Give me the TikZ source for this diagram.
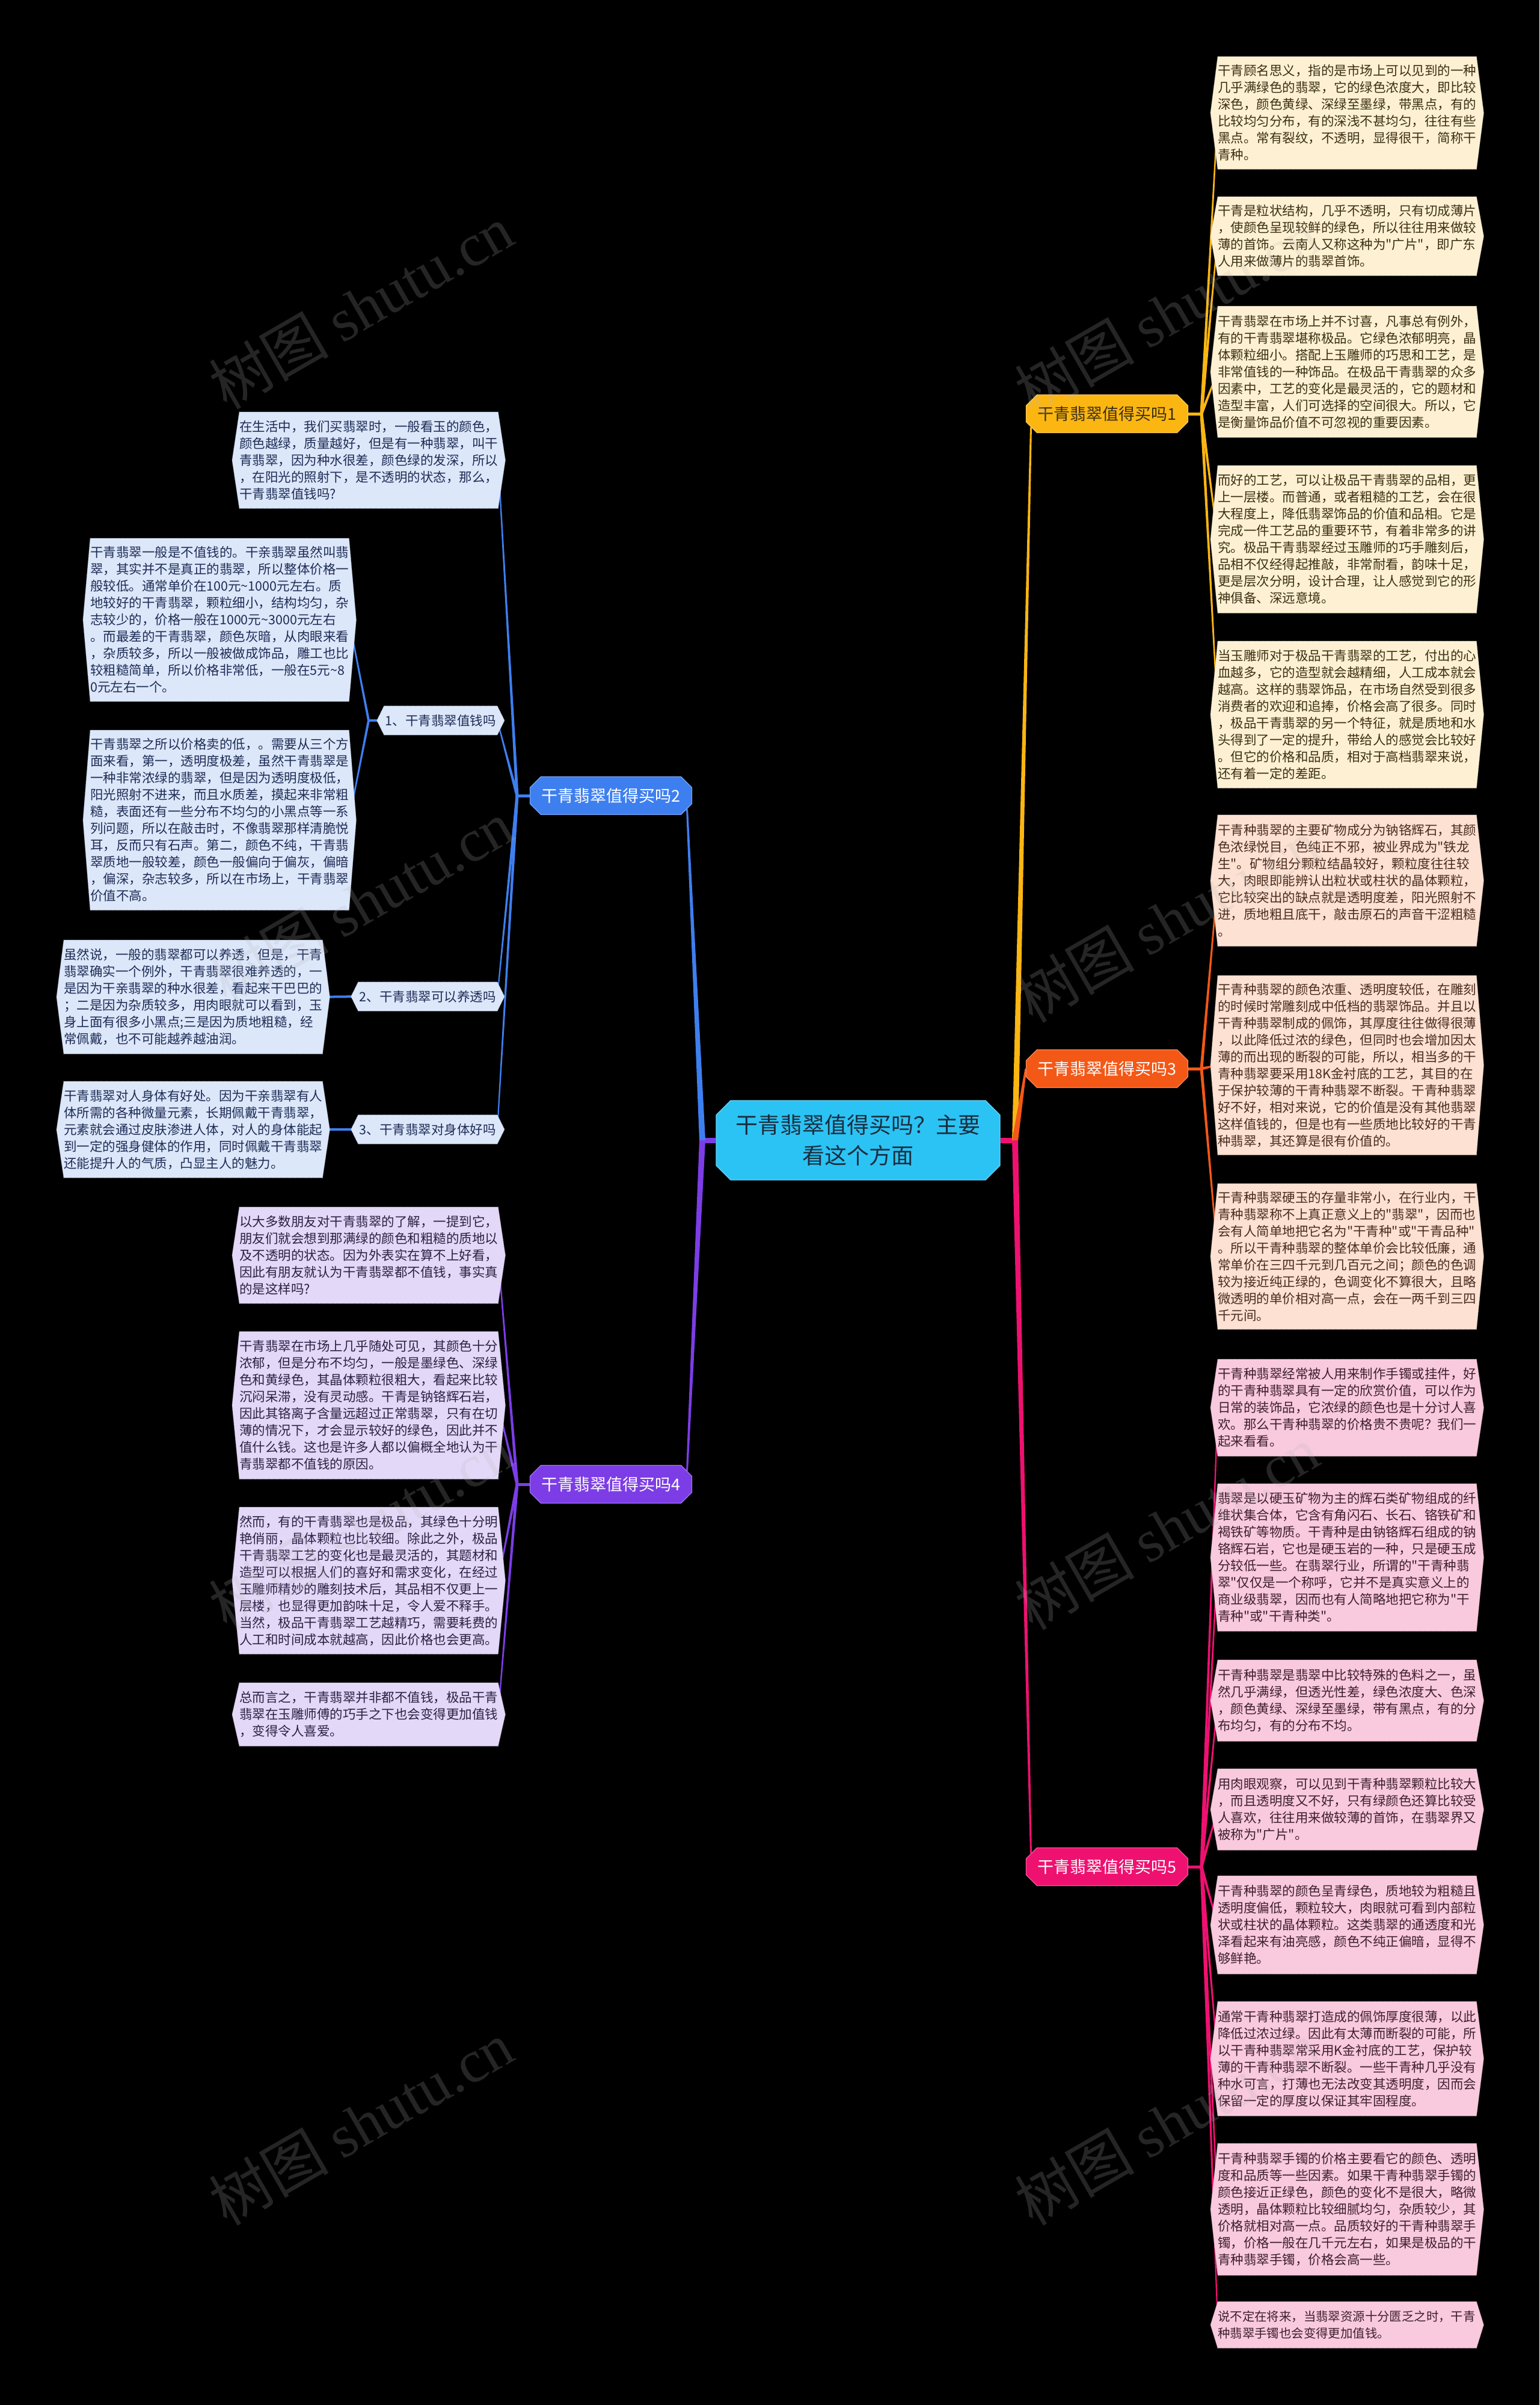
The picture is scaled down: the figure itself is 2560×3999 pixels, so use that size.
\documentclass[tikz,border=0pt]{standalone}
\usepackage{fontspec}
\setmainfont{Noto Sans CJK SC}[Ligatures=TeXOff]
\newfontfamily\wmlatin{Liberation Serif}
\usetikzlibrary{calc,shapes.misc}
\pgfdeclarelayer{bg}\pgfdeclarelayer{lines}\pgfdeclarelayer{boxes}\pgfdeclarelayer{top}
\pgfsetlayers{bg,lines,boxes,main,top}
\definecolor{cY}{HTML}{FBB612}
\definecolor{cO}{HTML}{F35817}
\definecolor{cP}{HTML}{EE1170}
\definecolor{cB}{HTML}{3E7FEF}
\definecolor{cV}{HTML}{7C3DE6}
\definecolor{cC}{HTML}{2BC3F4}
\definecolor{fY}{HTML}{FEF1D3}
\definecolor{fO}{HTML}{FDE1D3}
\definecolor{fP}{HTML}{F9C9DD}
\definecolor{fB}{HTML}{DCE7FA}
\definecolor{fV}{HTML}{E3D8F7}
\definecolor{tY}{HTML}{3B2F14}
\definecolor{tO}{HTML}{4A2C1E}
\definecolor{tP}{HTML}{3D1F2E}
\definecolor{tB}{HTML}{1E2C55}
\definecolor{tV}{HTML}{2B2145}
\definecolor{tC}{HTML}{1B2D3E}
\newcommand{\tagshape}[2]{\begin{pgfonlayer}{boxes}\path[fill=#2,draw=#2!80!black,densely dotted,line width=0.8pt] (#1.north west) -- ($(#1.west)+(-12,0)$) -- (#1.south west) -- (#1.south east) -- ($(#1.east)+(12,0)$) -- (#1.north east) -- cycle;\end{pgfonlayer}}
\newcommand{\tagbox}[7]{\node[tb,text=#6,minimum height=#4-#3] (#1) at (#2,#3) {#7};\tagshape{#1}{#5}}
\newcommand{\tapr}[5]{\fill[#1] ($(#2)!#4!90:(#3)$) -- ($(#3)!#5!-90:(#2)$) -- ($(#3)!#5!90:(#2)$) -- ($(#2)!#4!-90:(#3)$) -- cycle;}
\newcommand{\tl}{\textasciitilde{}}
\begin{document}
\begin{tikzpicture}[x=1pt,y=-1pt,
  tb/.style={text width=430pt,inner xsep=0pt,inner ysep=0pt,align=left,anchor=north west,font=\fontsize{21.5}{28}\selectfont},
  branch/.style={chamfered rectangle,chamfered rectangle xsep=9pt,chamfered rectangle ysep=9pt,minimum width=269pt,minimum height=63pt,inner sep=0pt,font=\fontsize{27}{32}\selectfont,line width=1.2pt},
  sbox/.style={anchor=east,inner xsep=2pt,inner ysep=0pt,minimum height=48pt,font=\fontsize{21.5}{28}\selectfont,text=tB},
  wm/.style={rotate=30,font=\fontsize{100}{100}\selectfont,text=gray!55,opacity=0.2}]
\useasboundingbox (0,0) rectangle (2560,3999);
\begin{pgfonlayer}{bg}\fill[black] (0,0) rectangle (2560,3999);\end{pgfonlayer}

% center and branches
\node[chamfered rectangle,chamfered rectangle xsep=12pt,chamfered rectangle ysep=12pt,fill=cC,draw=cC!70!white,line width=1.2pt,minimum width=472pt,minimum height=132pt,inner sep=0pt,align=center,text=tC,font=\fontsize{37}{51}\selectfont] (C) at (1427,1896) {干青翡翠值得买吗？主要\\看这个方面};
\node[branch,fill=cY,draw=cY!70!white,text=tY] (B1) at (1841,688) {干青翡翠值得买吗1};
\node[branch,fill=cO,draw=cO!70!white,text=white] (B3) at (1841,1777) {干青翡翠值得买吗3};
\node[branch,fill=cP,draw=cP!70!white,text=white] (B5) at (1841,3104) {干青翡翠值得买吗5};
\node[branch,fill=cB,draw=cB!70!white,text=white] (B2) at (1016,1323) {干青翡翠值得买吗2};
\node[branch,fill=cV,draw=cV!70!white,text=white] (B4) at (1016,2468) {干青翡翠值得买吗4};

% right column, branch 1
\tagbox{R1}{2025}{94}{281}{fY}{tY}{干青顾名思义，指的是市场上可以见到的一种\\几乎满绿色的翡翠，它的绿色浓度大，即比较\\深色，颜色黄绿、深绿至墨绿，带黑点，有的\\比较均匀分布，有的深浅不甚均匀，往往有些\\黑点。常有裂纹，不透明，显得很干，简称干\\青种。}
\tagbox{R2}{2025}{327}{458}{fY}{tY}{干青是粒状结构，几乎不透明，只有切成薄片\\，使颜色呈现较鲜的绿色，所以往往用来做较\\薄的首饰。云南人又称这种为"广片"，即广东\\人用来做薄片的翡翠首饰。}
\tagbox{R3}{2025}{509}{727}{fY}{tY}{干青翡翠在市场上并不讨喜，凡事总有例外，\\有的干青翡翠堪称极品。它绿色浓郁明亮，晶\\体颗粒细小。搭配上玉雕师的巧思和工艺，是\\非常值钱的一种饰品。在极品干青翡翠的众多\\因素中，工艺的变化是最灵活的，它的题材和\\造型丰富，人们可选择的空间很大。所以，它\\是衡量饰品价值不可忽视的重要因素。}
\tagbox{R4}{2025}{774}{1019}{fY}{tY}{而好的工艺，可以让极品干青翡翠的品相，更\\上一层楼。而普通，或者粗糙的工艺，会在很\\大程度上，降低翡翠饰品的价值和品相。它是\\完成一件工艺品的重要环节，有着非常多的讲\\究。极品干青翡翠经过玉雕师的巧手雕刻后，\\品相不仅经得起推敲，非常耐看，韵味十足，\\更是层次分明，设计合理，让人感觉到它的形\\神俱备、深远意境。}
\tagbox{R5}{2025}{1066}{1310}{fY}{tY}{当玉雕师对于极品干青翡翠的工艺，付出的心\\血越多，它的造型就会越精细，人工成本就会\\越高。这样的翡翠饰品，在市场自然受到很多\\消费者的欢迎和追捧，价格会高了很多。同时\\，极品干青翡翠的另一个特征，就是质地和水\\头得到了一定的提升，带给人的感觉会比较好\\。但它的价格和品质，相对于高档翡翠来说，\\还有着一定的差距。}
% branch 3
\tagbox{R6}{2025}{1355}{1573}{fO}{tO}{干青种翡翠的主要矿物成分为钠铬辉石，其颜\\色浓绿悦目，色纯正不邪，被业界成为"铁龙\\生"。矿物组分颗粒结晶较好，颗粒度往往较\\大，肉眼即能辨认出粒状或柱状的晶体颗粒，\\它比较突出的缺点就是透明度差，阳光照射不\\进，质地粗且底干，敲击原石的声音干涩粗糙\\。}
\tagbox{R7}{2025}{1622}{1920}{fO}{tO}{干青种翡翠的颜色浓重、透明度较低，在雕刻\\的时候时常雕刻成中低档的翡翠饰品。并且以\\干青种翡翠制成的佩饰，其厚度往往做得很薄\\，以此降低过浓的绿色，但同时也会增加因太\\薄的而出现的断裂的可能，所以，相当多的干\\青种翡翠要采用18K金衬底的工艺，其目的在\\于保护较薄的干青种翡翠不断裂。干青种翡翠\\好不好，相对来说，它的价值是没有其他翡翠\\这样值钱的，但是也有一些质地比较好的干青\\种翡翠，其还算是很有价值的。}
\tagbox{R8}{2025}{1968}{2210}{fO}{tO}{干青种翡翠硬玉的存量非常小，在行业内，干\\青种翡翠称不上真正意义上的"翡翠"，因而也\\会有人简单地把它名为"干青种"或"干青品种"\\。所以干青种翡翠的整体单价会比较低廉，通\\常单价在三四千元到几百元之间；颜色的色调\\较为接近纯正绿的，色调变化不算很大，且略\\微透明的单价相对高一点，会在一两千到三四\\千元间。}
% branch 5
\tagbox{R9}{2025}{2260}{2421}{fP}{tP}{干青种翡翠经常被人用来制作手镯或挂件，好\\的干青种翡翠具有一定的欣赏价值，可以作为\\日常的装饰品，它浓绿的颜色也是十分讨人喜\\欢。那么干青种翡翠的价格贵不贵呢？我们一\\起来看看。}
\tagbox{R10}{2025}{2467}{2712}{fP}{tP}{翡翠是以硬玉矿物为主的辉石类矿物组成的纤\\维状集合体，它含有角闪石、长石、铬铁矿和\\褐铁矿等物质。干青种是由钠铬辉石组成的钠\\铬辉石岩，它也是硬玉岩的一种，只是硬玉成\\分较低一些。在翡翠行业，所谓的"干青种翡\\翠"仅仅是一个称呼，它并不是真实意义上的\\商业级翡翠，因而也有人简略地把它称为"干\\青种"或"干青种类"。}
\tagbox{R11}{2025}{2760}{2895}{fP}{tP}{干青种翡翠是翡翠中比较特殊的色料之一，虽\\然几乎满绿，但透光性差，绿色浓度大、色深\\，颜色黄绿、深绿至墨绿，带有黑点，有的分\\布均匀，有的分布不均。}
\tagbox{R12}{2025}{2941}{3076}{fP}{tP}{用肉眼观察，可以见到干青种翡翠颗粒比较大\\，而且透明度又不好，只有绿颜色还算比较受\\人喜欢，往往用来做较薄的首饰，在翡翠界又\\被称为"广片"。}
\tagbox{R13}{2025}{3119}{3282}{fP}{tP}{干青种翡翠的颜色呈青绿色，质地较为粗糙且\\透明度偏低，颗粒较大，肉眼就可看到内部粒\\状或柱状的晶体颗粒。这类翡翠的通透度和光\\泽看起来有油亮感，颜色不纯正偏暗，显得不\\够鲜艳。}
\tagbox{R14}{2025}{3328}{3518}{fP}{tP}{通常干青种翡翠打造成的佩饰厚度很薄，以此\\降低过浓过绿。因此有太薄而断裂的可能，所\\以干青种翡翠常采用K金衬底的工艺，保护较\\薄的干青种翡翠不断裂。一些干青种几乎没有\\种水可言，打薄也无法改变其透明度，因而会\\保留一定的厚度以保证其牢固程度。}
\tagbox{R15}{2025}{3564}{3783}{fP}{tP}{干青种翡翠手镯的价格主要看它的颜色、透明\\度和品质等一些因素。如果干青种翡翠手镯的\\颜色接近正绿色，颜色的变化不是很大，略微\\透明，晶体颗粒比较细腻均匀，杂质较少，其\\价格就相对高一点。品质较好的干青种翡翠手\\镯，价格一般在几千元左右，如果是极品的干\\青种翡翠手镯，价格会高一些。}
\tagbox{R16}{2025}{3827}{3904}{fP}{tP}{\fontsize{20.4}{28}\selectfont 说不定在将来，当翡翠资源十分匮乏之时，干青\\种翡翠手镯也会变得更加值钱。}

% left, branch 2
\tagbox{L0}{398}{685}{845}{fB}{tB}{在生活中，我们买翡翠时，一般看玉的颜色，\\颜色越绿，质量越好，但是有一种翡翠，叫干\\青翡翠，因为种水很差，颜色绿的发深，所以\\，在阳光的照射下，是不透明的状态，那么，\\干青翡翠值钱吗?}
\node[sbox] (S1) at (827,1198) {1、干青翡翠值钱吗};\tagshape{S1}{fB}
\node[sbox] (S2) at (827,1657) {2、干青翡翠可以养透吗};\tagshape{S2}{fB}
\node[sbox] (S3) at (827,1878) {3、干青翡翠对身体好吗};\tagshape{S3}{fB}
\tagbox{L1}{150}{895}{1166}{fB}{tB}{干青翡翠一般是不值钱的。干亲翡翠虽然叫翡\\翠，其实并不是真正的翡翠，所以整体价格一\\般较低。通常单价在100元\tl 1000元左右。质\\地较好的干青翡翠，颗粒细小，结构均匀，杂\\志较少的，价格一般在1000元\tl 3000元左右\\。而最差的干青翡翠，颜色灰暗，从肉眼来看\\，杂质较多，所以一般被做成饰品，雕工也比\\较粗糙简单，所以价格非常低，一般在5元\tl 8\\0元左右一个。}
\tagbox{L2}{150}{1214}{1513}{fB}{tB}{干青翡翠之所以价格卖的低，。需要从三个方\\面来看，第一，透明度极差，虽然干青翡翠是\\一种非常浓绿的翡翠，但是因为透明度极低，\\阳光照射不进来，而且水质差，摸起来非常粗\\糙，表面还有一些分布不均匀的小黑点等一系\\列问题，所以在敲击时，不像翡翠那样清脆悦\\耳，反而只有石声。第二，颜色不纯，干青翡\\翠质地一般较差，颜色一般偏向于偏灰，偏暗\\，偏深，杂志较多，所以在市场上，干青翡翠\\价值不高。}
\tagbox{L3}{106}{1563}{1752}{fB}{tB}{虽然说，一般的翡翠都可以养透，但是，干青\\翡翠确实一个例外，干青翡翠很难养透的，一\\是因为干亲翡翠的种水很差，看起来干巴巴的\\；二是因为杂质较多，用肉眼就可以看到，玉\\身上面有很多小黑点;三是因为质地粗糙，经\\常佩戴，也不可能越养越油润。}
\tagbox{L4}{106}{1798}{1958}{fB}{tB}{干青翡翠对人身体有好处。因为干亲翡翠有人\\体所需的各种微量元素，长期佩戴干青翡翠，\\元素就会通过皮肤渗进人体，对人的身体能起\\到一定的强身健体的作用，同时佩戴干青翡翠\\还能提升人的气质，凸显主人的魅力。}
% branch 4
\tagbox{L5}{398}{2007}{2167}{fV}{tV}{以大多数朋友对干青翡翠的了解，一提到它，\\朋友们就会想到那满绿的颜色和粗糙的质地以\\及不透明的状态。因为外表实在算不上好看，\\因此有朋友就认为干青翡翠都不值钱，事实真\\的是这样吗?}
\tagbox{L6}{398}{2214}{2459}{fV}{tV}{干青翡翠在市场上几乎随处可见，其颜色十分\\浓郁，但是分布不均匀，一般是墨绿色、深绿\\色和黄绿色，其晶体颗粒很粗大，看起来比较\\沉闷呆滞，没有灵动感。干青是钠铬辉石岩，\\因此其铬离子含量远超过正常翡翠，只有在切\\薄的情况下，才会显示较好的绿色，因此并不\\值什么钱。这也是许多人都以偏概全地认为干\\青翡翠都不值钱的原因。}
\tagbox{L7}{398}{2506}{2750}{fV}{tV}{然而，有的干青翡翠也是极品，其绿色十分明\\艳俏丽，晶体颗粒也比较细。除此之外，极品\\干青翡翠工艺的变化也是最灵活的，其题材和\\造型可以根据人们的喜好和需求变化，在经过\\玉雕师精妙的雕刻技术后，其品相不仅更上一\\层楼，也显得更加韵味十足，令人爱不释手。\\当然，极品干青翡翠工艺越精巧，需要耗费的\\人工和时间成本就越高，因此价格也会更高。}
\tagbox{L8}{398}{2798}{2903}{fV}{tV}{总而言之，干青翡翠并非都不值钱，极品干青\\翡翠在玉雕师傅的巧手之下也会变得更加值钱\\，变得令人喜爱。}

% connectors
\coordinate (JR) at (1688,1896);
\coordinate (JL) at (1168,1896);
\coordinate (J1) at (1998,688);
\coordinate (J3) at (1998,1777);
\coordinate (J5) at (1998,3104);
\coordinate (J2) at (860,1323);
\coordinate (J4) at (860,2468);
\coordinate (JS1) at (613,1198);
\begin{pgfonlayer}{lines}
\tapr{cP}{C.east}{JR}{4.5pt}{4.5pt}
\tapr{cY}{JR}{B1.-170}{5pt}{1.5pt}
\tapr{cO}{JR}{B3.west}{5pt}{1.5pt}
\tapr{cP}{JR}{B5.170}{5pt}{1.5pt}
\tapr{cV}{C.west}{JL}{4.5pt}{4.5pt}
\tapr{cB}{JL}{B2.-10}{5pt}{1.5pt}
\tapr{cV}{JL}{B4.10}{5pt}{1.5pt}
\tapr{cY}{B1.east}{J1}{2.5pt}{2.5pt}
\foreach \n in {R1,R2,R3,R4,R5} {\tapr{cY}{J1}{\n.west}{2.5pt}{1pt}}
\tapr{cO}{B3.east}{J3}{2.5pt}{2.5pt}
\foreach \n in {R6,R7,R8} {\tapr{cO}{J3}{\n.west}{2.5pt}{1pt}}
\tapr{cP}{B5.east}{J5}{2.5pt}{2.5pt}
\foreach \n in {R9,R10,R11,R12,R13,R14,R15,R16} {\tapr{cP}{J5}{\n.west}{2.5pt}{1pt}}
\tapr{cB}{B2.west}{J2}{2.5pt}{2.5pt}
\foreach \n in {L0,S1,S2,S3} {\tapr{cB}{J2}{\n.east}{2.5pt}{1pt}}
\tapr{cV}{B4.west}{J4}{2.5pt}{2.5pt}
\foreach \n in {L5,L6,L7,L8} {\tapr{cV}{J4}{\n.east}{2.5pt}{1pt}}
\tapr{cB}{S1.west}{JS1}{2pt}{2pt}
\foreach \n in {L1,L2} {\tapr{cB}{JS1}{\n.east}{2pt}{1pt}}
\tapr{cB}{S2.west}{L3.east}{2pt}{2pt}
\tapr{cB}{S3.west}{L4.east}{2pt}{2pt}
\end{pgfonlayer}

% watermark
\begin{pgfonlayer}{top}
\node[wm] (w1) at (600,510) {树图 {\wmlatin shutu.cn}};
\node[wm] (w2) at (600,1500) {树图 {\wmlatin shutu.cn}};
\node[wm] (w3) at (600,2540) {树图 {\wmlatin shutu.cn}};
\node[wm] (w4) at (600,3530) {树图 {\wmlatin shutu.cn}};
\node[wm] (w5) at (1940,520) {树图 {\wmlatin shutu.cn}};
\node[wm] (w6) at (1940,1530) {树图 {\wmlatin shutu.cn}};
\node[wm] (w7) at (1940,2540) {树图 {\wmlatin shutu.cn}};
\node[wm] (w8) at (1940,3530) {树图 {\wmlatin shutu.cn}};
\end{pgfonlayer}
\end{tikzpicture}
\end{document}
